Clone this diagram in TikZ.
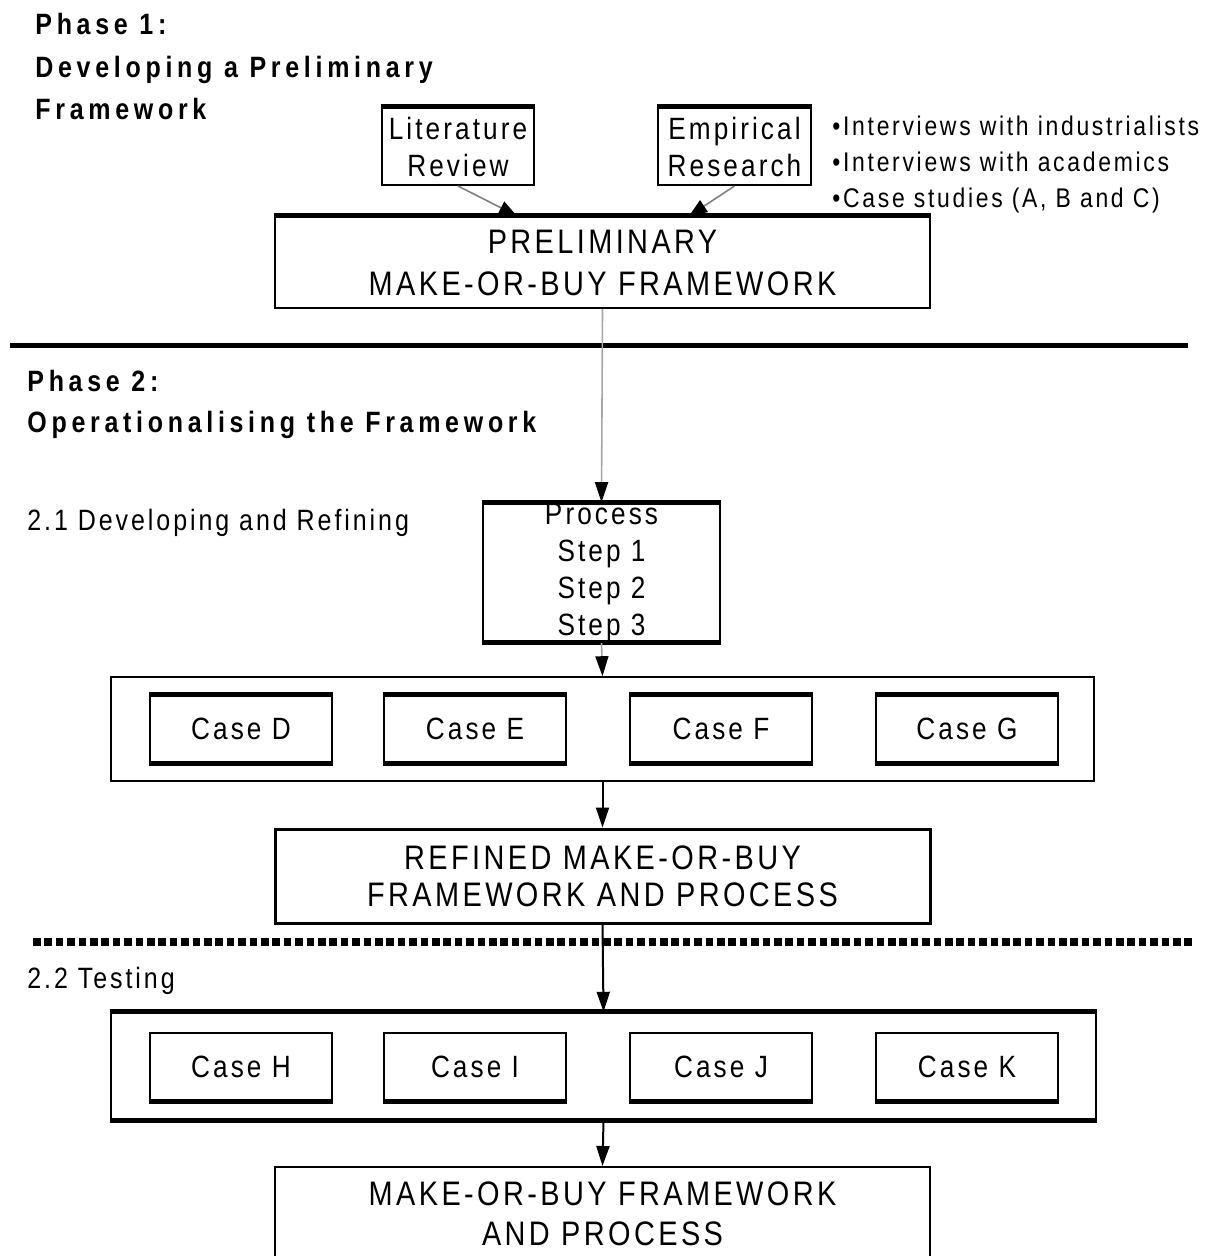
\documentclass[tikz,border=0pt]{standalone}
\usepackage{fontspec}
\setmainfont{Liberation Sans}
\newfontfamily\nf[FakeStretch=0.85,LetterSpace=10]{Liberation Sans}
\newfontfamily\tf[FakeStretch=0.85,LetterSpace=16]{Liberation Sans}
\usetikzlibrary{arrows.meta}
\begin{document}
\begin{tikzpicture}[x=0.5pt,y=-0.5pt,
  box/.style={draw,line width=1pt,inner sep=0pt,align=center},
  bigtxt/.style={font=\nf\fontsize{17}{21}\selectfont},
  midtxt/.style={font=\nf\fontsize{15.4}{18.5}\selectfont},
  title/.style={anchor=base west,inner sep=0pt,font=\tf\bfseries\fontsize{14.7}{21.5}\selectfont},
  sub/.style={anchor=base west,inner sep=0pt,font=\nf\fontsize{14.7}{18}\selectfont},
  thickedge/.style={line width=2.5pt},
  arr/.style={line width=1pt,-{Triangle[length=10pt,width=6.5pt]}},
  casebox/.style={box,midtxt,minimum width=91pt,minimum height=33.5pt}
]
\useasboundingbox (0,0) rectangle (1216,1256);
% titles
\node[title] (t1) at (35,35) {Phase 1:};
\node[title] (t2) at (35,78) {Developing a Preliminary};
\node[title] (t3) at (35,120) {Framework};
\node[title] (t4) at (27,392) {Phase 2:};
\node[title] (t5) at (27,432) {Operationalising the Framework};
\node[sub] (s1) at (27,530) {2.1 Developing and Refining};
\node[sub] (s2) at (27,988) {2.2 Testing};
% bullets
\node[anchor=base west,inner sep=0pt,align=left,font=\nf\fontsize{13.5}{18}\selectfont] (bul) at (832,208)
  {•Interviews with industrialists\\•Interviews with academics\\•Case studies (A, B and C)};
% phase 1 boxes
\node[box,midtxt,minimum width=76pt,minimum height=38.5pt] (lit) at (458,146.5) {Literature\\Review};
\node[box,midtxt,minimum width=76.5pt,minimum height=38.5pt] (emp) at (734.5,146.5) {Empirical\\Research};
\draw[thickedge] (lit.north west) -- (lit.north east);
\draw[thickedge] (emp.north west) -- (emp.north east);
\node[box,bigtxt,minimum width=327.5pt,minimum height=45.5pt] (pre) at (602.5,262.5) {PRELIMINARY\\MAKE-OR-BUY FRAMEWORK};
\draw[thickedge] (pre.north west) -- (pre.north east);
\draw[gray,line width=0.8pt,-{Triangle[length=9pt,width=7pt,color=black]}] (lit.south) -- ([xshift=121.5pt]pre.north west);
\draw[gray,line width=0.8pt,-{Triangle[length=9pt,width=7pt,color=black]}] (emp.south) -- ([xshift=207.5pt]pre.north west);
% separator
\draw[line width=2.5pt] (10,346) -- (1188,346);
% process
\node[box,midtxt,minimum width=118.5pt,minimum height=67.5pt] (proc) at (601.5,572.5) {Process\\Step 1\\Step 2\\Step 3};
\draw[thickedge] (proc.north west) -- (proc.north east);
\draw[thickedge] (proc.south west) -- (proc.south east);
\draw[gray!70,line width=0.8pt,-{Triangle[length=10pt,width=6.5pt,color=black]}] (pre.south) -- (proc.north);
% case group 1
\node[draw,line width=0.8pt,inner sep=0pt,minimum width=491.5pt,minimum height=52pt] (g1) at (602.5,729) {};
\draw[gray!70,line width=0.8pt,-{Triangle[length=10pt,width=6.5pt,color=black]}] (proc.south) -- (g1.north);
\foreach \n/\x in {D/241,E/475,F/721,G/967}{
  \node[casebox] (case\n) at (\x,728.5) {Case \n};
  \draw[thickedge] (case\n.north west) -- (case\n.north east);
  \draw[thickedge] (case\n.south west) -- (case\n.south east);
}
% refined
\node[box,bigtxt,font=\nf\fontsize{17}{18.5}\selectfont,line width=1.5pt,minimum width=327.5pt,minimum height=47pt] (ref) at (602.5,876) {REFINED MAKE-OR-BUY\\FRAMEWORK AND PROCESS};
\draw[arr] (g1.south) -- (ref.north);
% dotted separator
\draw[line width=4pt,dash pattern=on 3.8pt off 1.9pt] (33,942) -- (1195,942);
% case group 2
\node[draw,line width=1.2pt,inner sep=0pt,minimum width=492.5pt,minimum height=53pt] (g2) at (603.5,1066) {};
\draw[thickedge] (g2.north west) -- (g2.north east);
\draw[thickedge] (g2.south west) -- (g2.south east);
\draw[arr] (ref.south) -- (g2.north);
\foreach \n/\x in {H/241,I/475,J/721,K/967}{
  \node[casebox] (case\n) at (\x,1066.5) {Case \n};
  \draw[thickedge] (case\n.south west) -- (case\n.south east);
}
% final
\node[box,bigtxt,font=\nf\fontsize{17}{20}\selectfont,minimum width=327.5pt,minimum height=46.5pt] (fin) at (602.5,1213.5) {MAKE-OR-BUY FRAMEWORK\\AND PROCESS};
\draw[arr] (g2.south) -- (fin.north);
\end{tikzpicture}
\end{document}
